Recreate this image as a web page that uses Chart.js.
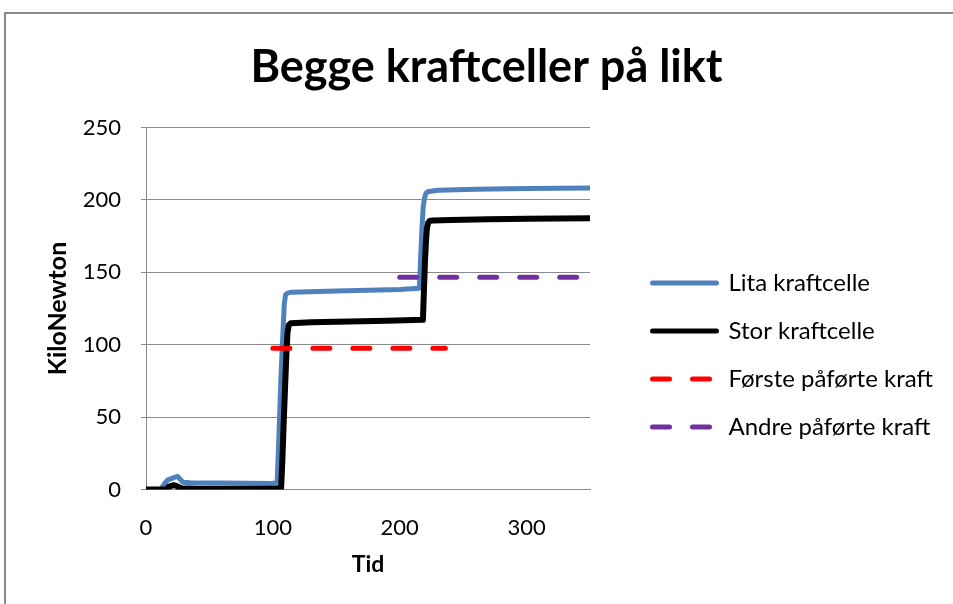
<!DOCTYPE html>
<html>
<head>
<meta charset="utf-8">
<script src="https://cdn.jsdelivr.net/npm/chart.js@4.4.1/dist/chart.umd.min.js"></script>
<style>
  html, body { margin: 0; padding: 0; background: #ffffff; }
  #wrap { position: relative; width: 953px; height: 604px; overflow: hidden; }
  #frame { position: absolute; left: 4px; top: 12px; width: 1000px; height: 700px;
           border-top: 2px solid #8a8a8a; border-left: 2px solid #8a8a8a; }
  #c { position: absolute; left: 0; top: 0; }
</style>
</head>
<body>
<div id="wrap">
  <div id="frame"></div>
  <canvas id="c" width="953" height="604"></canvas>
</div>
<script>
// ---- data ----
const chartTitle = 'Begge kraftceller på likt';
const xAxisTitle = 'Tid';
const yAxisTitle = 'KiloNewton';
const seriesNames = ['Lita kraftcelle', 'Stor kraftcelle', 'Første påførte kraft', 'Andre påførte kraft'];

const litaTid = [0, 12, 13, 15, 17, 20, 23, 25, 27, 29, 35, 60, 100, 103.4, 104.5, 105.5, 106.5, 107.5, 108.3, 109, 110, 112, 115, 150, 200, 215.5, 216.5, 217.5, 218.5, 219.5, 220.3, 221, 222, 230, 260, 300, 350];
const litaKraft = [0, 0, 2, 4.5, 6.5, 7.5, 8.5, 9, 7, 5, 4.7, 4.5, 4.2, 5, 30, 55, 80, 100, 115, 128, 134.5, 135.8, 136.3, 137, 138.2, 139, 160, 180, 195, 201, 203.5, 204.8, 205.6, 206.6, 207.3, 207.8, 208.2];

const storTid = [0, 15, 17, 18, 20, 22, 24, 26, 28, 40, 60, 100, 106.5, 107.5, 108.5, 109.5, 110.5, 111.5, 112.5, 114, 130, 160, 190, 218.3, 219, 219.8, 220.6, 221.4, 222.3, 223.5, 226, 240, 270, 300, 350];
const storKraft = [0, 0, 0.5, 2, 2.5, 3, 2.5, 1.5, 0.8, 0.6, 0.5, 0.5, 1, 20, 45, 68, 90, 108, 113.5, 114.8, 115.5, 116, 116.5, 117.2, 135, 155, 170, 180, 184, 185.4, 185.8, 186.2, 186.7, 187, 187.3];

const forsteTid = [100, 236];
const forsteKraft = [97.5, 97.5];
const andreTid = [200, 350];
const andreKraft = [146.5, 146.5];

const xTicksMin = 0, xTicksMax = 350, xStep = 100;
const yTicksMin = 0, yTicksMax = 250, yStep = 50;

// ---- helpers ----
const pts = (xs, ys) => xs.map((x, i) => ({ x: x, y: ys[i] }));
const FONT = 'Lato, "Open Sans", "DejaVu Sans", sans-serif';
const GRID = '#8a8a8a';

// legend placement tweak (fixed width so the plot ends at the right spot, and shifted drawing)
const legendTweak = {
  id: 'legendTweak',
  afterInit(chart) {
    const lg = chart.legend;
    if (!lg) return;
    const fit = lg.fit;
    lg.fit = function () { fit.call(this); this.width = 363; };
    const draw = lg.draw;
    lg.draw = function () {
      const ctx = this.ctx;
      ctx.save();
      ctx.translate(38.5, 46.5);
      draw.call(this);
      ctx.restore();
    };
  }
};

const datasets = [
  { label: seriesNames[0], data: pts(litaTid, litaKraft), borderColor: '#4f81bd', backgroundColor: '#4f81bd',
    borderWidth: 5, borderCapStyle: 'round', borderJoinStyle: 'round', pointRadius: 0, order: 4 },
  { label: seriesNames[1], data: pts(storTid, storKraft), borderColor: '#000000', backgroundColor: '#000000',
    borderWidth: 6, borderCapStyle: 'round', borderJoinStyle: 'round', pointRadius: 0, order: 3 },
  { label: seriesNames[2], data: pts(forsteTid, forsteKraft), borderColor: '#ff0000', backgroundColor: '#ff0000',
    borderWidth: 5, borderDash: [17, 23], borderCapStyle: 'round', pointRadius: 0, order: 2 },
  { label: seriesNames[3], data: pts(andreTid, andreKraft), borderColor: '#7030a0', backgroundColor: '#7030a0',
    borderWidth: 5, borderDash: [17, 23], borderCapStyle: 'round', pointRadius: 0, order: 1 }
];

new Chart(document.getElementById('c'), {
  type: 'line',
  data: { datasets: datasets },
  plugins: [legendTweak],
  options: {
    responsive: false,
    animation: false,
    events: [],
    layout: { padding: { top: 13, left: 20, right: 0, bottom: 0 } },
    plugins: {
      title: {
        display: true, text: chartTitle, color: '#000',
        font: { family: FONT, size: 45, weight: 'bold', lineHeight: 1.2 },
        padding: { top: 27, bottom: 33.5 }
      },
      legend: {
        display: true, position: 'right', align: 'center',
        labels: {
          color: '#000', font: { family: FONT, size: 24 }, padding: 24,
          usePointStyle: true, pointStyleWidth: 64,
          generateLabels: (chart) => chart.data.datasets.map((ds, i) => ({
            text: ds.label, strokeStyle: ds.borderColor, fillStyle: ds.borderColor,
            lineWidth: 5, lineDash: ds.borderDash || [], lineDashOffset: 0,
            lineCap: 'round', pointStyle: 'line', hidden: false, datasetIndex: i
          }))
        }
      },
      tooltip: { enabled: false }
    },
    scales: {
      x: {
        type: 'linear', min: xTicksMin, max: xTicksMax,
        ticks: { stepSize: xStep, includeBounds: false, color: '#000', padding: 25,
                 font: { family: FONT, size: 22 }, maxRotation: 0 },
        grid: { display: false, drawTicks: false },
        border: { display: true, color: GRID, width: 1 },
        title: { display: true, text: xAxisTitle, color: '#000',
                 font: { family: FONT, size: 23, weight: 'bold', lineHeight: 1.2 },
                 padding: { top: 0, bottom: 25.5 } },
        afterFit: (s) => { s.height = 114.5; }
      },
      y: {
        type: 'linear', min: yTicksMin, max: yTicksMax,
        ticks: { stepSize: yStep, color: '#000', padding: 20, font: { family: FONT, size: 22 } },
        grid: { color: GRID, lineWidth: 1, drawTicks: true, tickLength: 5 },
        border: { display: true, color: GRID, width: 1 },
        title: { display: true, text: yAxisTitle, color: '#000',
                 font: { family: FONT, size: 25, weight: 'bold', lineHeight: 1.2 },
                 padding: { top: 23, bottom: 0 } },
        afterFit: (s) => { s.width = 126; }
      }
    }
  }
});
</script>
</body>
</html>
